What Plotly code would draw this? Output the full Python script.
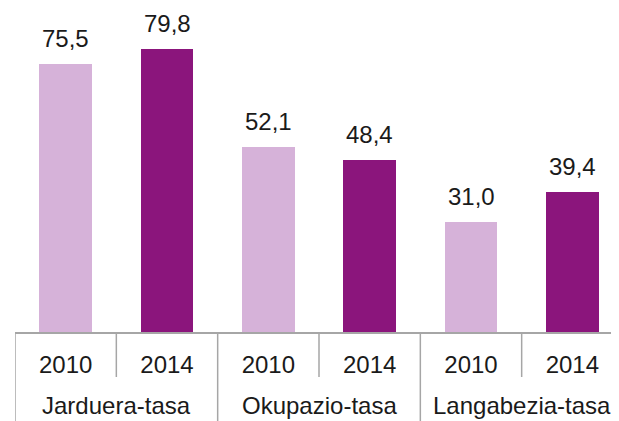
import plotly.graph_objects as go

groups = ['Jarduera-tasa', 'Jarduera-tasa', 'Okupazio-tasa', 'Okupazio-tasa',
          'Langabezia-tasa', 'Langabezia-tasa']
years = ['2010', '2014', '2010', '2014', '2010', '2014']
values = [75.5, 79.8, 52.1, 48.4, 31.0, 39.4]

LIGHT = '#D6B2D9'
DARK = '#8B157C'
GRAY = '#A6A6A6'
FONT = 'Liberation Sans, Arial, sans-serif'

cats = [f'{g} {y}' for g, y in zip(groups, years)]
colors = [LIGHT if y == '2010' else DARK for y in years]

# page body has an 8px margin, so margins are shifted to compensate
PLOT_H = 319
fig = go.Figure()
fig.add_trace(go.Bar(
    x=cats,
    y=values,
    marker=dict(color=colors, line=dict(width=0)),
    width=0.52,
    hoverinfo='skip',
))

# value labels above bars
for c, v in zip(cats, values):
    fig.add_annotation(
        x=c, y=v, xref='x', yref='y',
        text=f'{v:.1f}'.replace('.', ','),
        showarrow=False, yanchor='bottom', yshift=10,
        font=dict(size=24, color='#1a1a1a', family=FONT),
    )

# group labels and dividers
group_names = list(dict.fromkeys(groups))
for g in group_names:
    idx = [i for i, gg in enumerate(groups) if gg == g]
    fig.add_annotation(
        x=sum(idx) / len(idx), y=0, xref='x', yref='paper',
        text=g, showarrow=False, yanchor='top', yshift=-58,
        font=dict(size=24, color='#1a1a1a', family=FONT),
    )
    fig.add_shape(type='line', xref='x', yref='paper',
                  x0=idx[0] - 0.5, x1=idx[0] - 0.5, y0=0, y1=-100 / PLOT_H,
                  line=dict(color=GRAY, width=1.5))
    for i in idx[1:]:
        fig.add_shape(type='line', xref='x', yref='paper',
                      x0=i - 0.5, x1=i - 0.5, y0=0, y1=-45 / PLOT_H,
                      line=dict(color=GRAY, width=1.5))

fig.update_layout(
    width=619, height=421,
    margin=dict(l=7, r=4, t=5, b=97),
    plot_bgcolor='white', paper_bgcolor='white',
    font=dict(family=FONT, size=24, color='#1a1a1a'),
    showlegend=False,
    bargap=0,
)
fig.update_xaxes(
    type='category',
    range=[-0.5, len(cats) - 0.5],
    tickvals=cats, ticktext=years,
    showline=True, linecolor=GRAY, linewidth=2,
    ticks='', ticklabelstandoff=10,
    showgrid=False,
)
fig.update_yaxes(range=[0, 90], visible=False, showgrid=False)

fig.write_html('out.html')
